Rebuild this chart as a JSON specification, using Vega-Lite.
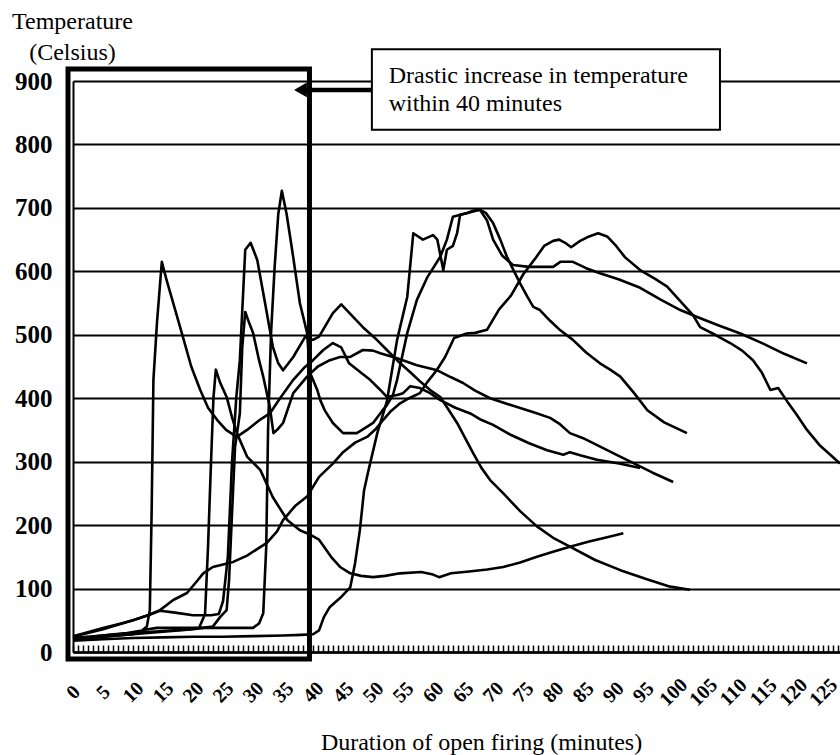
{
  "$schema": "https://vega.github.io/schema/vega-lite/v6.json",
  "width": 767,
  "height": 571,
  "autosize": {"type": "none"},
  "padding": {"left": 73, "top": 81, "right": 0, "bottom": 103},
  "background": "white",
  "config": {
    "view": {"stroke": null},
    "font": "Liberation Serif"
  },
  "encoding": {
    "x": {
      "field": "m", "type": "quantitative",
      "scale": {"domain": [0, 127.8], "nice": false, "zero": false},
      "axis": {
        "title": "Duration of open firing (minutes)",
        "titleFont": "Liberation Serif", "titleFontSize": 24, "titleFontWeight": "normal", "titleColor": "black",
        "titleAnchor": "start", "titleAlign": "center", "titleBaseline": "alphabetic", "titleX": 408, "titleY": 97,
        "values": [0,0.8333,1.6667,2.5,3.3333,4.1667,5,5.8333,6.6667,7.5,8.3333,9.1667,10,10.8333,11.6667,12.5,13.3333,14.1667,15,15.8333,16.6667,17.5,18.3333,19.1667,20,20.8333,21.6667,22.5,23.3333,24.1667,25,25.8333,26.6667,27.5,28.3333,29.1667,30,30.8333,31.6667,32.5,33.3333,34.1667,35,35.8333,36.6667,37.5,38.3333,39.1667,40,40.8333,41.6667,42.5,43.3333,44.1667,45,45.8333,46.6667,47.5,48.3333,49.1667,50,50.8333,51.6667,52.5,53.3333,54.1667,55,55.8333,56.6667,57.5,58.3333,59.1667,60,60.8333,61.6667,62.5,63.3333,64.1667,65,65.8333,66.6667,67.5,68.3333,69.1667,70,70.8333,71.6667,72.5,73.3333,74.1667,75,75.8333,76.6667,77.5,78.3333,79.1667,80,80.8333,81.6667,82.5,83.3333,84.1667,85,85.8333,86.6667,87.5,88.3333,89.1667,90,90.8333,91.6667,92.5,93.3333,94.1667,95,95.8333,96.6667,97.5,98.3333,99.1667,100,100.8333,101.6667,102.5,103.3333,104.1667,105,105.8333,106.6667,107.5,108.3333,109.1667,110,110.8333,111.6667,112.5,113.3333,114.1667,115,115.8333,116.6667,117.5,118.3333,119.1667,120,120.8333,121.6667,122.5,123.3333,124.1667,125,125.8333,126.6667,127.5],
        "labelExpr": "datum.value % 5 === 0 ? datum.label : ''",
        "labelAngle": -45, "labelAlign": "center", "labelBaseline": "middle",
        "labelFont": "Liberation Serif", "labelFontSize": 20, "labelFontWeight": "bold", "labelColor": "black",
        "labelPadding": 47, "labelOverlap": false, "labelFlush": false, "labelBound": false,
        "ticks": true, "tickSize": -7, "tickWidth": 1.5, "tickColor": "black",
        "domain": true, "domainColor": "black", "domainWidth": 2.5,
        "grid": false
      }
    },
    "y": {
      "field": "t", "type": "quantitative",
      "scale": {"domain": [0, 900], "nice": false},
      "axis": {
        "title": ["Temperature", "(Celsius)"],
        "titleFont": "Liberation Serif", "titleFontSize": 24, "titleFontWeight": "normal", "titleColor": "black",
        "titleAngle": 0, "titleAlign": "center", "titleBaseline": "alphabetic", "titleX": -1, "titleY": -53, "titleLineHeight": 31,
        "values": [0,100,200,300,400,500,600,700,800,900],
        "labelFont": "Liberation Serif", "labelFontSize": 25, "labelFontWeight": "bold", "labelColor": "black",
        "labelPadding": 21, "ticks": false,
        "domain": true, "domainColor": "black", "domainWidth": 2,
        "grid": true, "gridColor": "black", "gridWidth": 2, "gridOpacity": 1
      }
    }
  },
  "layer": [
    {
      "data": {"values": [
        {"s":"A","m":0,"t":22},{"s":"A","m":3,"t":24},{"s":"A","m":6,"t":27},{"s":"A","m":9,"t":30},{"s":"A","m":11.5,"t":34},{"s":"A","m":12.3,"t":40},{"s":"A","m":12.8,"t":66},{"s":"A","m":13.1,"t":219},{"s":"A","m":13.4,"t":429},{"s":"A","m":14,"t":520},{"s":"A","m":14.8,"t":615},{"s":"A","m":15.6,"t":586},{"s":"A","m":17,"t":540},{"s":"A","m":18.3,"t":497},{"s":"A","m":19.7,"t":450},{"s":"A","m":21.2,"t":413},{"s":"A","m":22.5,"t":385},{"s":"A","m":24,"t":366},{"s":"A","m":25.5,"t":350},{"s":"A","m":27.3,"t":339},{"s":"A","m":29,"t":350},{"s":"A","m":31,"t":365},{"s":"A","m":32.8,"t":376},{"s":"A","m":34.5,"t":400},{"s":"A","m":36.7,"t":429},{"s":"A","m":38.5,"t":448},{"s":"A","m":40,"t":460},{"s":"A","m":41.7,"t":476},{"s":"A","m":43.3,"t":487},{"s":"A","m":44.7,"t":480},{"s":"A","m":46,"t":455},{"s":"A","m":48,"t":440},{"s":"A","m":49.5,"t":429},{"s":"A","m":51,"t":415},{"s":"A","m":52.3,"t":402},{"s":"A","m":54,"t":405},{"s":"A","m":55,"t":408},{"s":"A","m":56.2,"t":419},{"s":"A","m":57.8,"t":416},{"s":"A","m":59.5,"t":408},{"s":"A","m":61.2,"t":397},{"s":"A","m":63.7,"t":385},{"s":"A","m":66.2,"t":376},{"s":"A","m":68,"t":366},{"s":"A","m":70,"t":358},{"s":"A","m":73,"t":342},{"s":"A","m":76,"t":329},{"s":"A","m":79,"t":318},{"s":"A","m":81.7,"t":311},{"s":"A","m":82.8,"t":315},{"s":"A","m":84.5,"t":310},{"s":"A","m":87.3,"t":303},{"s":"A","m":91,"t":297},{"s":"A","m":94.5,"t":290},

        {"s":"B","m":0,"t":20},{"s":"B","m":5,"t":24},{"s":"B","m":10,"t":28},{"s":"B","m":15,"t":32},{"s":"B","m":19,"t":35},{"s":"B","m":21,"t":38},{"s":"B","m":22,"t":60},{"s":"B","m":22.5,"t":166},{"s":"B","m":23,"t":300},{"s":"B","m":23.4,"t":400},{"s":"B","m":23.8,"t":445},{"s":"B","m":24.5,"t":425},{"s":"B","m":25.6,"t":402},{"s":"B","m":26.5,"t":370},{"s":"B","m":27.3,"t":345},{"s":"B","m":29,"t":308},{"s":"B","m":31.2,"t":287},{"s":"B","m":33.3,"t":244},{"s":"B","m":35.7,"t":208},{"s":"B","m":37.8,"t":192},{"s":"B","m":39.5,"t":185},{"s":"B","m":41,"t":177},{"s":"B","m":43,"t":150},{"s":"B","m":44.5,"t":134},{"s":"B","m":46.2,"t":124},{"s":"B","m":48,"t":120},{"s":"B","m":50,"t":118},{"s":"B","m":52,"t":120},{"s":"B","m":54.5,"t":124},{"s":"B","m":58,"t":126},{"s":"B","m":60,"t":122},{"s":"B","m":61,"t":118},{"s":"B","m":63,"t":124},{"s":"B","m":66,"t":127},{"s":"B","m":69,"t":130},{"s":"B","m":71.7,"t":134},{"s":"B","m":74.5,"t":141},{"s":"B","m":77.3,"t":150},{"s":"B","m":80,"t":158},{"s":"B","m":82.8,"t":166},{"s":"B","m":86,"t":174},{"s":"B","m":89,"t":181},{"s":"B","m":91.7,"t":187},

        {"s":"C","m":0,"t":22},{"s":"C","m":5,"t":26},{"s":"C","m":10,"t":30},{"s":"C","m":15,"t":33},{"s":"C","m":20,"t":36},{"s":"C","m":23.3,"t":40},{"s":"C","m":24.5,"t":55},{"s":"C","m":25.6,"t":66},{"s":"C","m":26,"t":113},{"s":"C","m":26.5,"t":219},{"s":"C","m":27,"t":323},{"s":"C","m":27.8,"t":376},{"s":"C","m":28.2,"t":480},{"s":"C","m":28.7,"t":536},{"s":"C","m":29.3,"t":520},{"s":"C","m":30,"t":503},{"s":"C","m":31,"t":460},{"s":"C","m":31.7,"t":434},{"s":"C","m":32.8,"t":386},{"s":"C","m":33.4,"t":345},{"s":"C","m":34.2,"t":352},{"s":"C","m":35,"t":361},{"s":"C","m":36.7,"t":408},{"s":"C","m":39,"t":434},{"s":"C","m":40.8,"t":450},{"s":"C","m":42.8,"t":460},{"s":"C","m":44.5,"t":465},{"s":"C","m":46.2,"t":465},{"s":"C","m":48.3,"t":476},{"s":"C","m":50,"t":475},{"s":"C","m":51.2,"t":471},{"s":"C","m":54,"t":463},{"s":"C","m":57.3,"t":452},{"s":"C","m":60.7,"t":444},{"s":"C","m":63,"t":433},{"s":"C","m":65,"t":424},{"s":"C","m":67,"t":412},{"s":"C","m":69.5,"t":400},{"s":"C","m":72,"t":392},{"s":"C","m":74,"t":386},{"s":"C","m":77,"t":377},{"s":"C","m":79.5,"t":369},{"s":"C","m":81,"t":360},{"s":"C","m":82.8,"t":345},{"s":"C","m":85,"t":337},{"s":"C","m":88,"t":323},{"s":"C","m":90.5,"t":311},{"s":"C","m":93.3,"t":298},{"s":"C","m":96.5,"t":283},{"s":"C","m":100,"t":268},

        {"s":"D","m":0,"t":24},{"s":"D","m":5,"t":36},{"s":"D","m":10,"t":50},{"s":"D","m":12.5,"t":58},{"s":"D","m":14.5,"t":65},{"s":"D","m":17,"t":62},{"s":"D","m":20,"t":58},{"s":"D","m":23,"t":58},{"s":"D","m":24.3,"t":60},{"s":"D","m":25,"t":80},{"s":"D","m":25.8,"t":150},{"s":"D","m":26.5,"t":300},{"s":"D","m":27.2,"t":400},{"s":"D","m":27.8,"t":460},{"s":"D","m":28.7,"t":634},{"s":"D","m":29.6,"t":645},{"s":"D","m":30.7,"t":618},{"s":"D","m":32,"t":550},{"s":"D","m":33.3,"t":481},{"s":"D","m":34.2,"t":455},{"s":"D","m":35,"t":444},{"s":"D","m":36.7,"t":465},{"s":"D","m":38.7,"t":497},{"s":"D","m":40,"t":492},{"s":"D","m":41,"t":497},{"s":"D","m":43.3,"t":534},{"s":"D","m":44.7,"t":548},{"s":"D","m":46,"t":535},{"s":"D","m":48.3,"t":512},{"s":"D","m":50.3,"t":495},{"s":"D","m":52.3,"t":476},{"s":"D","m":54.2,"t":458},{"s":"D","m":56.2,"t":441},{"s":"D","m":58,"t":425},{"s":"D","m":59.5,"t":413},{"s":"D","m":61.2,"t":402},{"s":"D","m":62.5,"t":383},{"s":"D","m":64,"t":361},{"s":"D","m":65.3,"t":338},{"s":"D","m":66.7,"t":313},{"s":"D","m":68,"t":291},{"s":"D","m":69.5,"t":271},{"s":"D","m":71.7,"t":250},{"s":"D","m":74.5,"t":222},{"s":"D","m":77.3,"t":198},{"s":"D","m":80,"t":180},{"s":"D","m":82.8,"t":166},{"s":"D","m":87,"t":145},{"s":"D","m":91.2,"t":129},{"s":"D","m":95.5,"t":115},{"s":"D","m":99.5,"t":103},{"s":"D","m":102.8,"t":98},

        {"s":"E","m":0,"t":20},{"s":"E","m":5,"t":24},{"s":"E","m":10,"t":28},{"s":"E","m":12,"t":35},{"s":"E","m":14,"t":38},{"s":"E","m":20,"t":38},{"s":"E","m":25,"t":38},{"s":"E","m":30,"t":38},{"s":"E","m":31,"t":45},{"s":"E","m":31.7,"t":61},{"s":"E","m":32.2,"t":166},{"s":"E","m":32.5,"t":350},{"s":"E","m":33,"t":503},{"s":"E","m":33.6,"t":607},{"s":"E","m":34.2,"t":690},{"s":"E","m":34.8,"t":727},{"s":"E","m":35.6,"t":690},{"s":"E","m":36.7,"t":622},{"s":"E","m":37.8,"t":550},{"s":"E","m":39,"t":503},{"s":"E","m":39.5,"t":440},{"s":"E","m":40.7,"t":413},{"s":"E","m":41.2,"t":397},{"s":"E","m":42,"t":380},{"s":"E","m":43.3,"t":361},{"s":"E","m":45,"t":345},{"s":"E","m":47.3,"t":345},{"s":"E","m":48.5,"t":352},{"s":"E","m":50,"t":361},{"s":"E","m":51.5,"t":380},{"s":"E","m":52.3,"t":389},{"s":"E","m":53.3,"t":405},{"s":"E","m":54,"t":429},{"s":"E","m":55.7,"t":503},{"s":"E","m":57.3,"t":555},{"s":"E","m":59,"t":590},{"s":"E","m":61.2,"t":623},{"s":"E","m":62.3,"t":650},{"s":"E","m":63.3,"t":686},{"s":"E","m":65.7,"t":692},{"s":"E","m":67.8,"t":697},{"s":"E","m":69,"t":680},{"s":"E","m":70,"t":650},{"s":"E","m":71.5,"t":625},{"s":"E","m":73.3,"t":610},{"s":"E","m":76,"t":607},{"s":"E","m":80,"t":607},{"s":"E","m":81.2,"t":615},{"s":"E","m":83.3,"t":615},{"s":"E","m":85.5,"t":605},{"s":"E","m":87.8,"t":597},{"s":"E","m":91,"t":587},{"s":"E","m":94.5,"t":574},{"s":"E","m":98,"t":555},{"s":"E","m":101.2,"t":539},{"s":"E","m":104,"t":528},{"s":"E","m":107.5,"t":515},{"s":"E","m":111.2,"t":502},{"s":"E","m":115,"t":486},{"s":"E","m":118.5,"t":470},{"s":"E","m":122.3,"t":455},

        {"s":"F","m":0,"t":18},{"s":"F","m":5,"t":20},{"s":"F","m":10,"t":22},{"s":"F","m":15,"t":23},{"s":"F","m":20,"t":24},{"s":"F","m":25,"t":24},{"s":"F","m":30,"t":25},{"s":"F","m":35,"t":26},{"s":"F","m":38,"t":27},{"s":"F","m":40,"t":28},{"s":"F","m":41,"t":34},{"s":"F","m":41.8,"t":55},{"s":"F","m":42.8,"t":71},{"s":"F","m":44.5,"t":85},{"s":"F","m":46.2,"t":102},{"s":"F","m":47,"t":140},{"s":"F","m":47.8,"t":192},{"s":"F","m":48.5,"t":255},{"s":"F","m":49.2,"t":285},{"s":"F","m":50.7,"t":345},{"s":"F","m":52.3,"t":395},{"s":"F","m":54,"t":492},{"s":"F","m":55.7,"t":560},{"s":"F","m":56.7,"t":660},{"s":"F","m":58.3,"t":650},{"s":"F","m":60,"t":657},{"s":"F","m":60.7,"t":650},{"s":"F","m":61.7,"t":602},{"s":"F","m":62.3,"t":634},{"s":"F","m":63.3,"t":640},{"s":"F","m":64,"t":660},{"s":"F","m":64.5,"t":689},{"s":"F","m":65.7,"t":692},{"s":"F","m":66.8,"t":696},{"s":"F","m":67.8,"t":697},{"s":"F","m":68.8,"t":692},{"s":"F","m":70,"t":676},{"s":"F","m":71.2,"t":650},{"s":"F","m":72.3,"t":623},{"s":"F","m":73.5,"t":600},{"s":"F","m":74.5,"t":581},{"s":"F","m":75.7,"t":560},{"s":"F","m":76.7,"t":544},{"s":"F","m":77.8,"t":539},{"s":"F","m":79.5,"t":522},{"s":"F","m":81.2,"t":507},{"s":"F","m":83.3,"t":492},{"s":"F","m":85.5,"t":472},{"s":"F","m":87.8,"t":455},{"s":"F","m":89.5,"t":445},{"s":"F","m":91.2,"t":434},{"s":"F","m":93.5,"t":408},{"s":"F","m":95.7,"t":381},{"s":"F","m":98.5,"t":362},{"s":"F","m":102.3,"t":345},

        {"s":"G","m":0,"t":25},{"s":"G","m":2,"t":30},{"s":"G","m":5,"t":38},{"s":"G","m":8,"t":45},{"s":"G","m":10,"t":50},{"s":"G","m":12.5,"t":58},{"s":"G","m":14.5,"t":66},{"s":"G","m":16.7,"t":82},{"s":"G","m":19,"t":93},{"s":"G","m":20.5,"t":110},{"s":"G","m":21.7,"t":124},{"s":"G","m":23.3,"t":134},{"s":"G","m":25,"t":138},{"s":"G","m":26.7,"t":142},{"s":"G","m":29,"t":152},{"s":"G","m":32.3,"t":172},{"s":"G","m":34,"t":190},{"s":"G","m":35,"t":208},{"s":"G","m":37,"t":230},{"s":"G","m":39,"t":245},{"s":"G","m":41,"t":276},{"s":"G","m":43.3,"t":297},{"s":"G","m":45,"t":315},{"s":"G","m":47,"t":330},{"s":"G","m":49,"t":339},{"s":"G","m":50.5,"t":352},{"s":"G","m":51.7,"t":366},{"s":"G","m":53,"t":380},{"s":"G","m":54.5,"t":392},{"s":"G","m":56,"t":400},{"s":"G","m":57.8,"t":408},{"s":"G","m":59,"t":425},{"s":"G","m":60.6,"t":444},{"s":"G","m":62,"t":465},{"s":"G","m":63.5,"t":495},{"s":"G","m":65.6,"t":502},{"s":"G","m":67,"t":503},{"s":"G","m":69,"t":508},{"s":"G","m":71,"t":540},{"s":"G","m":73,"t":562},{"s":"G","m":75,"t":595},{"s":"G","m":77,"t":620},{"s":"G","m":78.5,"t":640},{"s":"G","m":80,"t":648},{"s":"G","m":81,"t":650},{"s":"G","m":82,"t":645},{"s":"G","m":83,"t":638},{"s":"G","m":84.5,"t":648},{"s":"G","m":86,"t":655},{"s":"G","m":87.5,"t":660},{"s":"G","m":89,"t":655},{"s":"G","m":90.5,"t":640},{"s":"G","m":92,"t":622},{"s":"G","m":94.5,"t":602},{"s":"G","m":97,"t":588},{"s":"G","m":99,"t":576},{"s":"G","m":101,"t":555},{"s":"G","m":103.3,"t":531},{"s":"G","m":104.5,"t":512},{"s":"G","m":107,"t":500},{"s":"G","m":109.5,"t":487},{"s":"G","m":111.5,"t":475},{"s":"G","m":113.3,"t":460},{"s":"G","m":114.8,"t":440},{"s":"G","m":116.2,"t":413},{"s":"G","m":117.5,"t":416},{"s":"G","m":119,"t":395},{"s":"G","m":120.5,"t":375},{"s":"G","m":122.3,"t":350},{"s":"G","m":124.5,"t":325},{"s":"G","m":126.5,"t":308},{"s":"G","m":127.8,"t":297}
      ]},
      "mark": {"type": "line", "color": "black", "strokeWidth": 2.6, "strokeJoin": "round"},
      "encoding": {
        "detail": {"field": "s"}
      }
    },
    {
      "data": {"values": [{"m": -0.83, "m2": 39.4, "t": -11, "t2": 919}]},
      "mark": {"type": "rect", "fill": null, "fillOpacity": 0, "stroke": "black", "strokeWidth": 5},
      "encoding": {
        "x2": {"field": "m2"},
        "y2": {"field": "t2"}
      }
    },
    {
      "data": {"values": [{"m": 38.2, "m2": 49.8, "t": 886}]},
      "mark": {"type": "rule", "color": "black", "strokeWidth": 4.5},
      "encoding": {
        "x2": {"field": "m2"}
      }
    },
    {
      "data": {"values": [{"m": 37.9, "t": 886}]},
      "mark": {"type": "point", "shape": "triangle-left", "filled": true, "color": "black", "size": 220, "opacity": 1},
      "encoding": {}
    },
    {
      "data": {"values": [{"m": 49.8, "m2": 107.8, "t": 823, "t2": 950}]},
      "mark": {"type": "rect", "fill": "white", "stroke": "black", "strokeWidth": 2},
      "encoding": {
        "x2": {"field": "m2"},
        "y2": {"field": "t2"}
      }
    },
    {
      "data": {"values": [
        {"m": 52.6, "t": 897, "label": "Drastic increase in temperature"},
        {"m": 52.6, "t": 853, "label": "within 40 minutes"}
      ]},
      "mark": {"type": "text", "align": "left", "baseline": "alphabetic", "font": "Liberation Serif", "fontSize": 24, "color": "black"},
      "encoding": {
        "text": {"field": "label"}
      }
    }
  ]
}
